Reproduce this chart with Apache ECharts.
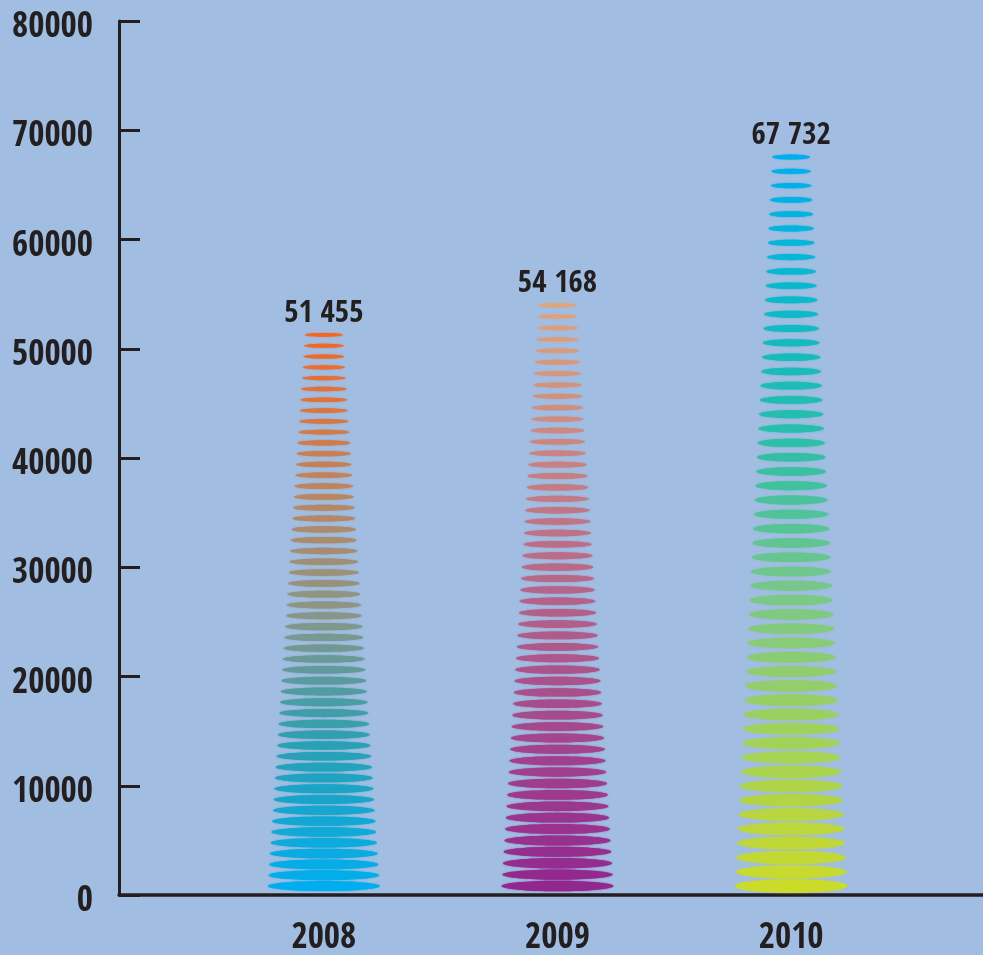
<!DOCTYPE html>
<html>
<head>
<meta charset="utf-8">
<title>2008–2010</title>
<script src="https://cdn.jsdelivr.net/npm/echarts@6/dist/echarts.min.js"></script>
<style>
  html, body { margin: 0; padding: 0; background: #a1bde1; }
  #chart { width: 983px; height: 955px; }
</style>
</head>
<body>
<div id="chart"></div>
<script>
// Yearly totals
const years = ['2008', '2009', '2010'];
const totals = [51455, 54168, 67732];
const yTicks = { min: 0, max: 80000, step: 10000 };

// Colour ramps, bottom (0) to top (1), one per year
const ramps = [
  [[0, [0, 174, 239]], [0.25, [40, 160, 180]], [0.5, [140, 150, 135]], [0.75, [195, 130, 90]], [1, [242, 103, 36]]],
  [[0, [146, 39, 143]], [0.5, [180, 100, 138]], [1, [222, 165, 122]]],
  [[0, [203, 219, 42]], [0.4, [122, 200, 135]], [0.62, [40, 190, 170]], [0.82, [10, 184, 205]], [1, [0, 174, 239]]]
];

const RINGS = 52;            // ellipses per column
const W_BOTTOM = 112, W_TOP = 38;
const FONT = "'Open Sans Condensed', 'Open Sans', sans-serif";
const INK = '#231f20';

function rampColor(stops, t) {
  for (let i = 1; i < stops.length; i++) {
    if (t <= stops[i][0]) {
      const a = stops[i - 1], b = stops[i];
      const f = (t - a[0]) / (b[0] - a[0]);
      const c = a[1].map((v, k) => Math.round(v + (b[1][k] - v) * f));
      return 'rgb(' + c.join(',') + ')';
    }
  }
  return 'rgb(' + stops[stops.length - 1][1].join(',') + ')';
}

function spaced(v) {
  return String(v).replace(/\B(?=(\d{3})+(?!\d))/g, ' ');
}

function renderColumn(params, api) {
  const idx = api.value(0);
  const val = api.value(1);
  const top = api.coord([idx, val]);
  const base = api.coord([idx, 0]);
  const yBot = base[1] - 9;
  const yTop = top[1] + 2;
  const step = (yBot - yTop) / (RINGS - 1);
  const children = [];
  for (let i = 0; i < RINGS; i++) {
    const t = i / (RINGS - 1);
    const w = W_BOTTOM + (W_TOP - W_BOTTOM) * t;
    const h = step * (0.93 - 0.57 * t);
    const col = rampColor(ramps[params.dataIndex], t);
    children.push({
      type: 'ellipse',
      shape: { cx: base[0], cy: yBot - i * step, rx: w / 2, ry: h / 2 },
      style: { fill: col, shadowBlur: 1.5, shadowColor: col }
    });
  }
  children.push({
    type: 'text',
    x: top[0],
    y: top[1] - 19,
    style: {
      text: spaced(val),
      fill: INK,
      font: 'bold 31px ' + FONT,
      align: 'center',
      verticalAlign: 'middle'
    }
  });
  return { type: 'group', children: children };
}

const chart = echarts.init(document.getElementById('chart'), null, { renderer: 'canvas' });

const labelFont = { color: INK, fontSize: 35, fontWeight: 'bold', fontFamily: FONT };

chart.setOption({
  backgroundColor: '#a1bde1',
  animation: false,
  grid: [
    { left: 119, right: 0, top: 21, bottom: 60, outerBoundsMode: 'none' },
    { left: 207, right: 75, top: 21, bottom: 60, outerBoundsMode: 'none' }
  ],
  xAxis: [
    {
      gridIndex: 0, type: 'value', min: 0, max: 1,
      axisLine: { show: true, lineStyle: { color: INK, width: 3.5 } },
      axisTick: { show: false }, axisLabel: { show: false }, splitLine: { show: false }
    },
    {
      gridIndex: 1, type: 'category', data: years,
      axisLine: { show: false }, axisTick: { show: false },
      axisLabel: Object.assign({ margin: 26 }, labelFont)
    }
  ],
  yAxis: [
    {
      gridIndex: 0, type: 'value', min: yTicks.min, max: yTicks.max, interval: yTicks.step,
      axisLine: { show: true, lineStyle: { color: INK, width: 3 } },
      axisTick: { show: true, inside: true, length: 21, lineStyle: { color: INK, width: 3 } },
      axisLabel: Object.assign({
        margin: 26,
        formatter: v => '{n|' + v + '}',
        rich: { n: Object.assign({ padding: [14, 0, 0, 0] }, labelFont) }
      }, labelFont),
      splitLine: { show: false }
    },
    {
      gridIndex: 1, type: 'value', min: yTicks.min, max: yTicks.max, show: false
    }
  ],
  series: [{
    type: 'custom',
    xAxisIndex: 1,
    yAxisIndex: 1,
    renderItem: renderColumn,
    data: years.map((y, i) => [i, totals[i]])
  }]
});
</script>
</body>
</html>
